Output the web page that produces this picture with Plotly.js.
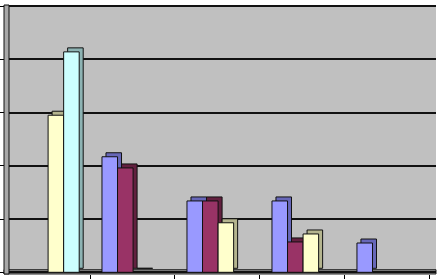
<!DOCTYPE html>
<html>
<head>
<meta charset="utf-8">
<script src="https://cdn.plot.ly/plotly-3.0.1.min.js"></script>
<style>html,body{margin:0;padding:0;background:#fff;}#chart{width:443px;height:279px;}</style>
</head>
<body>
<div id="chart"></div>
<script>
// Data (null = no bar)
const categories = ['1', '2', '3', '4', '5'];
const seriesBlue   = [null, 2.17, 1.34, 1.34, 0.55];
const seriesMaroon = [null, 1.96, 1.34, 0.57, null];
const seriesYellow = [2.95, 0, 0.93, 0.72, null];
const seriesCyan   = [4.14, null, null, null, null];
const yTickValues  = [0, 1, 2, 3, 4, 5];

const series = [
  {name: 'Series 1', values: seriesBlue,   face: '#9999ff', side: '#6767b8'},
  {name: 'Series 2', values: seriesMaroon, face: '#993366', side: '#62203f'},
  {name: 'Series 3', values: seriesYellow, face: '#ffffcc', side: '#b5b58f'},
  {name: 'Series 4', values: seriesCyan,   face: '#ccffff', side: '#8db3b3'}
];

const barWidth = 0.183;
const groupStart = -0.359;
const depthX = 0.047;   // 3-D extrusion, horizontal (category units)
const depthY = 0.075;   // 3-D extrusion, vertical (value units)

const traces = [];
// extrusion (side/top faces) drawn first
series.forEach((s, i) => {
  traces.push({
    type: 'bar', x: categories, y: s.values, base: depthY,
    offset: groupStart + i * barWidth + depthX, width: barWidth,
    marker: {color: s.side, line: {color: '#111', width: 1}},
    showlegend: false, hoverinfo: 'skip'
  });
});
// front faces
series.forEach((s, i) => {
  traces.push({
    type: 'bar', x: categories, y: s.values, name: s.name,
    offset: groupStart + i * barWidth, width: barWidth,
    marker: {color: s.face, line: {color: '#111', width: 1}},
    showlegend: false
  });
});

const layout = {
  width: 443, height: 279,
  margin: {l: 9, r: 7, t: 5, b: 5, pad: 0},
  paper_bgcolor: '#ffffff',
  plot_bgcolor: '#c0c0c0',
  barmode: 'overlay',
  showlegend: false,
  xaxis: {
    type: 'category', range: [-0.453, 4.571], fixedrange: true,
    showgrid: false, zeroline: false, showline: false,
    showticklabels: false, ticks: 'outside', ticklen: 4, tickwidth: 1,
    tickcolor: '#000', tickson: 'boundaries'
  },
  yaxis: {
    range: [-0.032, 5.02], fixedrange: true,
    tickvals: yTickValues, showticklabels: false,
    ticks: 'outside', ticklen: 9, tickwidth: 1, tickcolor: '#000',
    showgrid: true, gridcolor: '#111', gridwidth: 2,
    zeroline: false, showline: false
  },
  shapes: [
    // floor
    {type: 'rect', xref: 'paper', yref: 'paper', x0: -5 / 427, x1: 1, y0: 0, y1: 0.016,
     fillcolor: '#8a8a8a', line: {color: '#222', width: 1}, layer: 'between'},
    // left side wall
    {type: 'rect', xref: 'paper', yref: 'paper', x0: -5 / 427, x1: 0, y0: 0, y1: 1,
     fillcolor: '#a8a8a8', line: {color: '#111', width: 1}, layer: 'above'}
  ]
};

Plotly.newPlot('chart', traces, layout, {displayModeBar: false, staticPlot: true});
</script>
</body>
</html>
